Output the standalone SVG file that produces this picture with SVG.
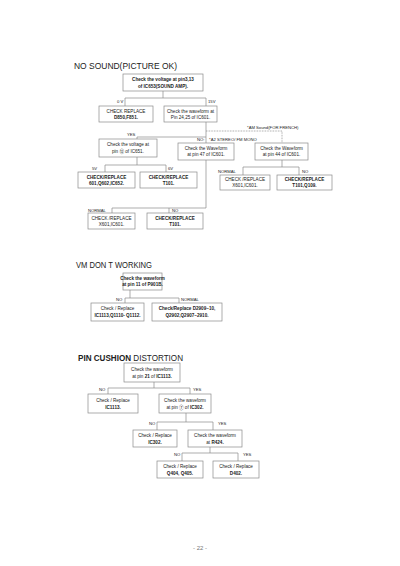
<svg xmlns="http://www.w3.org/2000/svg" width="400" height="566" viewBox="0 0 400 566">
<style>
text { font-family: "Liberation Sans", "Noto Sans CJK JP", sans-serif; fill: #222; }
.bx { fill: #fff; stroke: #8a8a8a; stroke-width: 0.7; }
.ln { stroke: #8a8a8a; stroke-width: 0.7; fill: none; }
.dot { stroke: #777; stroke-width: 0.7; stroke-dasharray: 0.8 0.8; fill: none; }
.bt { font-size: 4.6px; text-anchor: middle; }
.b { font-weight: bold; }
.lb { font-size: 4.2px; }
.ti { font-size: 8.5px; }
</style>
<rect width="400" height="566" fill="#fff"/>

<!-- Titles -->
<text class="ti" x="74" y="69" textLength="103" lengthAdjust="spacingAndGlyphs">NO SOUND(PICTURE OK)</text>
<text class="ti" x="76" y="268" textLength="76" lengthAdjust="spacingAndGlyphs">VM DON T WORKING</text>
<text class="ti" x="78" y="361" textLength="105" lengthAdjust="spacingAndGlyphs"><tspan font-weight="bold">PIN CUSHION</tspan> DISTORTION</text>

<!-- Connectors -->
<g id="connectors">
  <path class="ln" d="M163 91V98M125 98H206M125 98V106M206 98V106"/>
  <path class="ln" d="M206 122V143M137 137H206M137 137V139"/>
  <path class="ln" d="M137 157V165M105 165H166M105 165V172M166 165V172"/>
  <path class="dot" d="M206 131H282V143"/>
  <path class="ln" d="M282 160V167M243 167H299M243 167V175M299 167V175"/>
  <path class="ln" d="M206 160V208M112 208H206M112 208V213M169 208V213"/>
  <path class="ln" d="M130 290V298M125 298H179M125 298V303M179 298V303"/>
  <path class="ln" d="M154 382V388M108 388H190M108 388V394M190 388V394"/>
  <path class="ln" d="M186 413V422M157 422H213M157 422V430M213 422V430"/>
  <path class="ln" d="M210 447V453M182 453H238M182 453V461M238 453V461"/>
</g>

<!-- Labels -->
<g id="labels" class="lb">
  <text x="117" y="102.5">0 V</text>
  <text x="208" y="102.5">15V</text>
  <text x="247" y="128.5">*AM Sound(FOR FRENCH)</text>
  <text x="127" y="135.5">YES</text>
  <text x="197" y="140.5">NO:</text>
  <text x="209" y="140.5">*A2 STEREO/ FM MONO</text>
  <text x="92" y="169.5">5V</text>
  <text x="168" y="169.5">6V</text>
  <text x="218" y="172.5">NORMAL</text>
  <text x="302" y="172.5">NO</text>
  <text x="88" y="211.5">NORMAL</text>
  <text x="172" y="211.5">NO</text>
  <text x="116" y="300.5">NO</text>
  <text x="181" y="300.5">NORMAL</text>
  <text x="99" y="390.5">NO</text>
  <text x="193" y="390.5">YES</text>
  <text x="149" y="424.5">NO</text>
  <text x="218" y="424.5">YES</text>
  <text x="174" y="455.5">NO</text>
  <text x="243" y="455.5">YES</text>
</g>

<!-- NO SOUND nodes -->
<g id="n1"><rect class="bx" x="123" y="74" width="80" height="17"/>
  <text class="bt b" x="163" y="81.2" font-size="5">Check the voltage at pin3,13</text>
  <text class="bt b" x="163" y="87.8" font-size="5">of IC653(SOUND AMP).</text></g>
<g id="n2"><rect class="bx" x="99" y="106" width="54" height="16"/>
  <text class="bt" x="126" y="112.5">CHECK REPLACE</text>
  <text class="bt b" x="126" y="118.5">D850,F851.</text></g>
<g id="n3"><rect class="bx" x="164" y="106" width="53" height="16"/>
  <text class="bt" x="190.5" y="112.5">Check the waveform at</text>
  <text class="bt" x="190.5" y="118.5">Pin 24,25 of  IC601.</text></g>
<g id="n4"><rect class="bx" x="99" y="139" width="58" height="18"/>
  <text class="bt" x="128" y="146">Check the voltage at</text>
  <text class="bt" x="128" y="152.5">pin ⑫ of  IC651.</text></g>
<g id="n5"><rect class="bx" x="78" y="172" width="57" height="16"/>
  <text class="bt b" x="106.5" y="178.5">CHECK/REPLACE</text>
  <text class="bt b" x="106.5" y="184.5">601,Q602,IC652.</text></g>
<g id="n6"><rect class="bx" x="140" y="172" width="57" height="16"/>
  <text class="bt b" x="168.5" y="178.5">CHECK/REPLACE</text>
  <text class="bt b" x="168.5" y="184.5">T101.</text></g>
<g id="n7"><rect class="bx" x="178" y="143" width="56" height="17"/>
  <text class="bt" x="206" y="149.5">Check the Waveform</text>
  <text class="bt" x="206" y="156">at pin 47 of IC601.</text></g>
<g id="n8"><rect class="bx" x="255" y="143" width="53" height="17"/>
  <text class="bt" x="281.5" y="149.5">Check the Waveform</text>
  <text class="bt" x="281.5" y="156">at pin 44 of IC601.</text></g>
<g id="n9"><rect class="bx" x="220" y="175" width="50" height="15"/>
  <text class="bt" x="245" y="181">CHECK /REPLACE</text>
  <text class="bt" x="245" y="187">X601,IC601.</text></g>
<g id="n10"><rect class="bx" x="277" y="175" width="55" height="15"/>
  <text class="bt b" x="304.5" y="181">CHECK/REPLACE</text>
  <text class="bt b" x="304.5" y="187">T101,Q109.</text></g>
<g id="n11"><rect class="bx" x="88" y="213" width="47" height="16"/>
  <text class="bt" x="111.5" y="219.5">CHECK /REPLACE</text>
  <text class="bt" x="111.5" y="225.5">X601,IC601.</text></g>
<g id="n12"><rect class="bx" x="147" y="213" width="56" height="16"/>
  <text class="bt b" x="175" y="219.5">CHECK/REPLACE</text>
  <text class="bt b" x="175" y="225.5">T101.</text></g>

<!-- VM nodes -->
<g id="v1"><rect class="bx" x="123" y="273" width="39" height="17"/>
  <text class="bt b" x="142.5" y="279.5" font-size="3.8">Check the waveform</text>
  <text class="bt b" x="142.5" y="285.5" font-size="3.8">at pin 11 of P901B.</text></g>
<g id="v2"><rect class="bx" x="91" y="303" width="53" height="18"/>
  <text class="bt" x="117.5" y="310" font-size="4.3">Check / Replace</text>
  <text class="bt b" x="117.5" y="316.5" font-size="4.3">IC1113,Q1110- Q1112.</text></g>
<g id="v3"><rect class="bx" x="152" y="303" width="70" height="18"/>
  <text class="bt b" x="187" y="310" font-size="4.3">Check/Replace D2909~10,</text>
  <text class="bt b" x="187" y="316.5" font-size="4.3">Q2902,Q2907~2910.</text></g>

<!-- PIN CUSHION nodes -->
<g id="p1"><rect class="bx" x="124" y="363" width="56" height="19"/>
  <text class="bt" x="152" y="371">Check the waveform</text>
  <text class="bt" x="152" y="377.5">at pin <tspan font-weight="bold">21</tspan> of <tspan font-weight="bold">IC1113.</tspan></text></g>
<g id="p2"><rect class="bx" x="88" y="394" width="50" height="19"/>
  <text class="bt" x="113" y="402">Check / Replace</text>
  <text class="bt b" x="113" y="408.5">IC1113.</text></g>
<g id="p3"><rect class="bx" x="159" y="394" width="52" height="19"/>
  <text class="bt" x="185" y="402">Check the waveform</text>
  <text class="bt" x="185" y="408.5">at pin ⑦ of <tspan font-weight="bold">IC302.</tspan></text></g>
<g id="p4"><rect class="bx" x="133" y="430" width="44" height="17"/>
  <text class="bt" x="155" y="437">Check / Replace</text>
  <text class="bt b" x="155" y="443.5">IC302.</text></g>
<g id="p5"><rect class="bx" x="188" y="430" width="54" height="17"/>
  <text class="bt" x="215" y="437">Check the waveform</text>
  <text class="bt" x="215" y="443.5">at <tspan font-weight="bold">R424.</tspan></text></g>
<g id="p6"><rect class="bx" x="157" y="461" width="46" height="17"/>
  <text class="bt" x="180" y="468">Check / Replace</text>
  <text class="bt b" x="180" y="474.5">Q404, Q405.</text></g>
<g id="p7"><rect class="bx" x="213" y="461" width="46" height="17"/>
  <text class="bt" x="236" y="468">Check / Replace</text>
  <text class="bt b" x="236" y="474.5">D402.</text></g>

<text x="200" y="550" font-size="6" text-anchor="middle" fill="#777" style="fill:#777">- 22 -</text>
</svg>
